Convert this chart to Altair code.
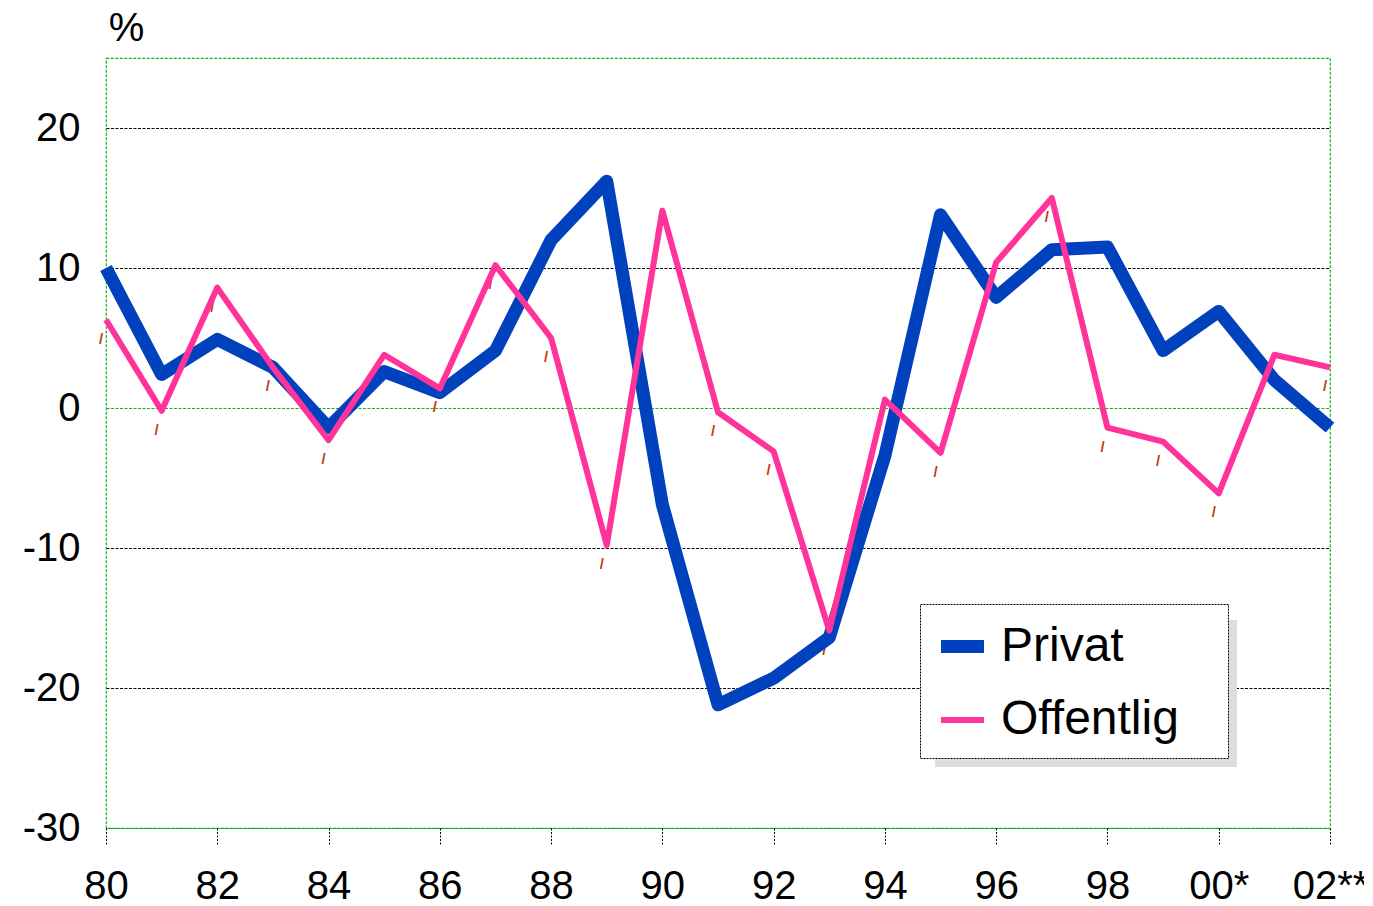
import altair as alt
import pandas as pd

years = list(range(1980, 2003))
privat = [10.0, 2.4, 4.9, 2.9, -1.4, 2.6, 1.1, 4.1, 12.0, 16.2, -6.9, -21.2, -19.3, -16.4,
          -3.4, 13.8, 7.9, 11.3, 11.5, 4.1, 6.9, 2.0, -1.4]
offentlig = [6.3, -0.2, 8.6, 2.9, -2.3, 3.8, 1.4, 10.2, 5.0, -9.8, 14.1, -0.3, -3.1, -15.9,
             0.6, -3.2, 10.4, 15.0, -1.4, -2.4, -6.1, 3.8, 2.9]
series_names = ["Privat", "Offentlig"]
tick_years = list(range(1980, 2003, 2))
tick_labels = ["80", "82", "84", "86", "88", "90", "92", "94", "96", "98", "00*", "02**"]
y_ticks = [-30, -20, -10, 0, 10, 20]

rows = []
for y, p, o in zip(years, privat, offentlig):
    rows.append({"year": y, "value": p, "series": "Privat", "order": 0})
    rows.append({"year": y, "value": o, "series": "Offentlig", "order": 1})
df = pd.DataFrame(rows)
df_off = pd.DataFrame({"year": years, "value": offentlig})

label_expr = " : ".join(
    f"datum.value == {y} ? '{l}'" for y, l in zip(tick_years, tick_labels)
) + " : ''"

FONT = "Liberation Sans"
GREEN = "#19b019"

x_enc = alt.X(
    "year:Q",
    scale=alt.Scale(domain=[1980, 2002], nice=False, zero=False),
    axis=alt.Axis(
        values=tick_years, labelExpr=label_expr, title=None, grid=False,
        domain=False, ticks=True, tickSize=17, tickColor="black", tickDash=[2, 1.5],
        tickWidth=1, labelFontSize=40, labelFont=FONT, labelColor="black",
        labelPadding=21, labelFlush=False, labelOverlap=False,
    ),
)
y_enc = alt.Y(
    "value:Q",
    scale=alt.Scale(domain=[-30, 25], nice=False),
    axis=alt.Axis(
        values=y_ticks, title="%", titleAngle=0, titleX=20, titleY=-30,
        titleAlign="center", titleBaseline="middle", titleFontSize=40,
        titleFont=FONT, titleFontWeight="normal", titleColor="black",
        grid=True, gridDash=[3, 1.5], gridWidth=1.2,
        gridColor=alt.ConditionalAxisColor(
            condition={"test": "datum.value === 0 || datum.value === -30", "value": GREEN},
            value="black",
        ),
        labelExpr="'' + datum.value",
        domain=False, ticks=False, labelFontSize=40, labelFont=FONT,
        labelColor="black", labelPadding=26, labelBaseline="middle",
    ),
)

legend = alt.Legend(
    title=None, orient="none", legendX=814, legendY=546,
    symbolType="stroke", symbolSize=1850, labelFontSize=48, labelFont=FONT,
    labelColor="black", padding=14, rowPadding=22, labelOffset=10, labelLimit=500,
    strokeColor="black", fillColor="white",
    labelExpr="datum.label + '\u2800'",
)

shadow = alt.Chart(pd.DataFrame({"a": [0]})).mark_rect(color="#dddddd").encode(
    x=alt.value(829), x2=alt.value(1131), y=alt.value(562), y2=alt.value(709)
)

lines = alt.Chart(df).mark_line(strokeJoin="round", strokeCap="butt").encode(
    x=x_enc,
    y=y_enc,
    color=alt.Color(
        "series:N",
        scale=alt.Scale(domain=series_names, range=["#0041BD", "#FF3399"]),
        legend=legend,
        sort=series_names,
    ),
    strokeWidth=alt.StrokeWidth(
        "series:N",
        scale=alt.Scale(domain=series_names, range=[13, 6]),
        legend=legend,
        sort=series_names,
    ),
    order=alt.Order("order:Q"),
    detail="series:N",
)

marks = alt.Chart(df_off).mark_text(
    text="/", color="#c43a14", fontSize=15, font=FONT, fontWeight="bold", dx=-5, dy=19
).encode(x=alt.X("year:Q"), y=alt.Y("value:Q"))

chart = (
    alt.layer(shadow, marks, lines)
    .properties(width=1224, height=770, autosize=alt.AutoSizeParams(type="none"),
                padding={"left": 98, "top": 50, "right": 34, "bottom": 84})
    .configure_view(stroke=GREEN, strokeDash=[3, 1.5], strokeWidth=1.2)
    .configure_legend(strokeDash=[2, 1])
)

chart.save("out.html", embed_options={"renderer": "svg", "actions": False})
